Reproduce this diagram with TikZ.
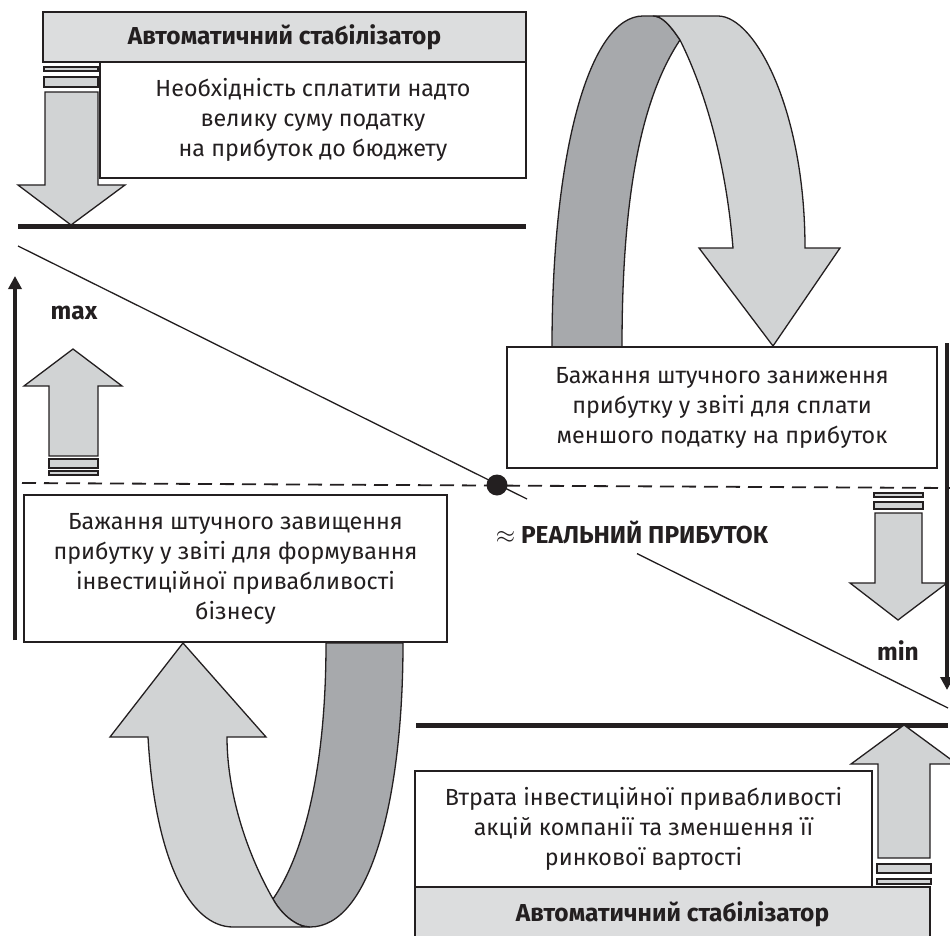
\documentclass[tikz,border=0pt]{standalone}
\usepackage{fontspec}
\setmainfont{Fira Sans}
\usetikzlibrary{arrows.meta}
\definecolor{ink}{HTML}{231F20}
\definecolor{lightg}{HTML}{D1D3D4}
\definecolor{darkg}{HTML}{A7A9AC}
\definecolor{boxg}{HTML}{DCDDDE}
\begin{document}
\begin{tikzpicture}[x=1pt,y=-1pt,
  txt/.style={font=\fontsize{23.3}{30}\selectfont, text=ink, align=center},
  whitebox/.style={txt, draw=ink, line width=2, fill=white, inner sep=0, outer sep=0, anchor=north west},
  graybox/.style={whitebox, fill=boxg, font=\bfseries\fontsize{24.5}{26}\selectfont},
  blockarrow/.style={draw=ink, fill=lightg, line width=1.3, line join=miter},
  darkband/.style={draw=ink, fill=darkg, line width=1.3},
  boldlabel/.style={font=\bfseries\fontsize{24.5}{26}\selectfont, text=ink, inner sep=0},
  axis/.style={draw=ink, line width=3.5, -{Triangle[width=13pt,length=13pt]}},
  thickline/.style={draw=ink, line width=5},
  thinline/.style={draw=ink, line width=1.3}
]
\useasboundingbox (0,0) rectangle (950,936);

% ---------- curved ribbon arrow, top right ----------
\path[darkband] (552,347) .. controls (552,150) and (590,16) .. (643,16)
  -- (653,16) .. controls (662,16) and (670,25) .. (680,40)
  .. controls (640,100) and (622,200) .. (622,347) -- cycle;
\path[blockarrow] (653,16) -- (718,16) .. controls (755,16) and (805,110) .. (805,248)
  -- (840,248) -- (773,346) -- (699,248) -- (733,248)
  .. controls (725,150) and (700,80) .. (680,40)
  .. controls (670,25) and (662,16) .. (653,16) -- cycle;

% ---------- curved ribbon arrow, bottom left ----------
\path[darkband] (273,899) .. controls (280,912) and (295,927) .. (310,927)
  .. controls (370,927) and (403,800) .. (403,643) -- (326,643)
  .. controls (326,780) and (300,860) .. (273,899) -- cycle;
\path[blockarrow] (148,737) .. controls (155,860) and (190,927) .. (233,927)
  -- (310,927) .. controls (295,927) and (280,912) .. (273,899)
  .. controls (245,850) and (227,790) .. (227,737)
  -- (266,737) -- (183,643) -- (110,737) -- cycle;

% ---------- reference lines ----------
\draw[thickline] (18,226) -- (526,226);
\draw[thickline] (416,725) -- (948,725);
\coordinate (dL) at (22,483);
\coordinate (dR) at (950,488);
\draw[ink, line width=1.8, dash pattern=on 14pt off 8pt] (dL) -- (dR);
\coordinate (lA) at (18,246);
\coordinate (lB) at (527,499);
\coordinate (lC) at (637,553.6);
\coordinate (lD) at (948,708);
\draw[thinline] (lA) -- (lB);
\draw[thinline] (lC) -- (lD);
\node[circle, fill=ink, minimum size=21, inner sep=0] (real) at (497,485) {};

% ---------- axes ----------
\coordinate (axL0) at (15,640);
\coordinate (axL1) at (15,276);
\draw[axis] (axL0) -- (axL1);
\coordinate (axR0) at (947,343);
\coordinate (axR1) at (947,690);
\draw[axis] (axR0) -- (axR1);

% ---------- boxes ----------
\node[graybox, minimum width=483, minimum height=50] (stab1) at (43,12) {Автоматичний стабілізатор};
\node[whitebox, minimum width=426, minimum height=116] (need) at (100,62)
  {Необхідність сплатити надто\\велику суму податку\\на прибуток до бюджету};
\node[whitebox, minimum width=430, minimum height=121] (under) at (507,347)
  {Бажання штучного заниження\\прибутку у звіті для сплати\\меншого податку на прибуток};
\node[whitebox, minimum width=423, minimum height=147] (over) at (24,495)
  {Бажання штучного завищення\\прибутку у звіті для формування\\інвестиційної привабливості\\бізнесу};
\node[whitebox, minimum width=457, minimum height=116] (loss) at (415,771)
  {Втрата інвестиційної привабливості\\акцій компанії та зменшення її\\ринкової вартості};
\node[graybox, minimum width=515, minimum height=55] (stab2) at (415,887) {\raisebox{2pt}{Автоматичний стабілізатор}};

% ---------- labels ----------
\node[boldlabel] (max) at (74,313) {max};
\node[boldlabel] (min) at (898,651) {min};
\node[boldlabel] (reallbl) at (632,532) {$\approx$ РЕАЛЬНИЙ ПРИБУТОК};

% ---------- straight block arrows ----------
% top-left, down
\path[blockarrow] (44,67) rectangle (98,71);
\path[blockarrow] (44,77) rectangle (98,87);
\path[blockarrow] (45,92) -- (98,92) -- (98,185) -- (125,185) -- (71,225) -- (18,185) -- (45,185) -- cycle;
% max, up
\path[blockarrow] (49,459) rectangle (98,468);
\path[blockarrow] (49,471) rectangle (98,475);
\path[blockarrow] (49,456) -- (98,456) -- (98,386) -- (122,386) -- (73,349) -- (24,386) -- (49,386) -- cycle;
% min, down
\path[blockarrow] (874,493) rectangle (923,497);
\path[blockarrow] (874,502) rectangle (923,509);
\path[blockarrow] (875,513) -- (922,513) -- (922,583) -- (947,583) -- (898,620) -- (850,583) -- (875,583) -- cycle;
% bottom-right, up
\path[blockarrow] (877,864) rectangle (931,873);
\path[blockarrow] (877,879) rectangle (931,884);
\path[blockarrow] (878,858) -- (930,858) -- (930,764) -- (957,764) -- (904,725) -- (851,764) -- (878,764) -- cycle;
\end{tikzpicture}
\end{document}
